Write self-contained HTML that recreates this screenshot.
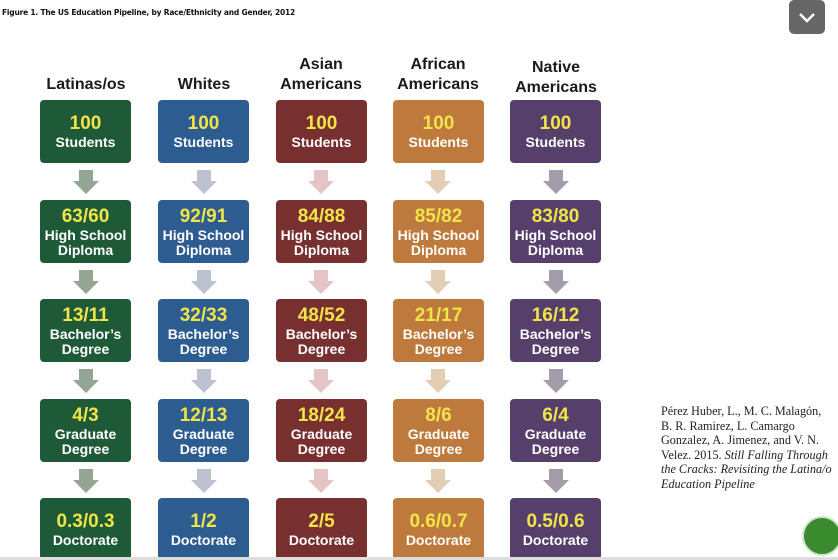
<!DOCTYPE html>
<html><head><meta charset="utf-8"><style>
body{margin:0;width:838px;height:560px;background:#fff;position:relative;overflow:hidden;font-family:"Liberation Sans",sans-serif}
.t{position:absolute;left:2px;top:8px;font:bold 7.5px "DejaVu Sans",sans-serif;color:#111;letter-spacing:-0.2px}
.h{position:absolute;width:130px;text-align:center;font-size:16px;font-weight:bold;color:#1a1a1a;line-height:20px}
.b{position:absolute;width:91px;height:63px;border-radius:4px;display:flex;flex-direction:column;align-items:center;justify-content:center;text-align:center;color:#fff;font-weight:bold;font-size:14px;line-height:15px}
.b span{color:#f0e448;font-size:19px;line-height:22px}
.c1{left:40px;background:#1f5a38}.c2{left:158px;background:#2d5c91}.c3{left:276px;background:#782f30}.c4{left:393px;background:#bd7a3c}.c5{left:510px;background:#573f6c}
.r1{top:100px}.r2{top:200px}.r3{top:299px}.r4{top:399px}.r5{top:498px;height:62px}
.cite{position:absolute;left:661px;top:404px;font:12.2px/14.6px "Liberation Serif",serif;color:#222;white-space:nowrap}
</style></head><body>
<div class="t">Figure 1. The US Education Pipeline, by Race/Ethnicity and Gender, 2012</div>
<div class="h" style="left:21px;top:75px">Latinas/os</div>
<div class="h" style="left:139px;top:75px">Whites</div>
<div class="h" style="left:256px;top:55px">Asian<br>Americans</div>
<div class="h" style="left:373px;top:55px">African<br>Americans</div>
<div class="h" style="left:491px;top:58px">Native<br>Americans</div>

<div class="b c1 r1"><span>100</span>Students</div>
<div class="b c2 r1"><span>100</span>Students</div>
<div class="b c3 r1"><span>100</span>Students</div>
<div class="b c4 r1"><span>100</span>Students</div>
<div class="b c5 r1"><span>100</span>Students</div>

<div class="b c1 r2"><span>63/60</span>High School<br>Diploma</div>
<div class="b c2 r2"><span>92/91</span>High School<br>Diploma</div>
<div class="b c3 r2"><span>84/88</span>High School<br>Diploma</div>
<div class="b c4 r2"><span>85/82</span>High School<br>Diploma</div>
<div class="b c5 r2"><span>83/80</span>High School<br>Diploma</div>

<div class="b c1 r3"><span>13/11</span>Bachelor’s<br>Degree</div>
<div class="b c2 r3"><span>32/33</span>Bachelor’s<br>Degree</div>
<div class="b c3 r3"><span>48/52</span>Bachelor’s<br>Degree</div>
<div class="b c4 r3"><span>21/17</span>Bachelor’s<br>Degree</div>
<div class="b c5 r3"><span>16/12</span>Bachelor’s<br>Degree</div>

<div class="b c1 r4"><span>4/3</span>Graduate<br>Degree</div>
<div class="b c2 r4"><span>12/13</span>Graduate<br>Degree</div>
<div class="b c3 r4"><span>18/24</span>Graduate<br>Degree</div>
<div class="b c4 r4"><span>8/6</span>Graduate<br>Degree</div>
<div class="b c5 r4"><span>6/4</span>Graduate<br>Degree</div>

<div class="b c1 r5"><span>0.3/0.3</span>Doctorate</div>
<div class="b c2 r5"><span>1/2</span>Doctorate</div>
<div class="b c3 r5"><span>2/5</span>Doctorate</div>
<div class="b c4 r5"><span>0.6/0.7</span>Doctorate</div>
<div class="b c5 r5"><span>0.5/0.6</span>Doctorate</div>

<svg width="838" height="560" style="position:absolute;left:0;top:0">
<defs><polygon id="a" points="-7,0 7,0 7,11 13,11 0,24 -13,11 -7,11"/></defs>
<g fill="#93a593">
<use href="#a" x="86" y="170"/><use href="#a" x="86" y="270"/><use href="#a" x="86" y="369"/><use href="#a" x="86" y="469"/></g>
<g fill="#bcc2d0">
<use href="#a" x="204" y="170"/><use href="#a" x="204" y="270"/><use href="#a" x="204" y="369"/><use href="#a" x="204" y="469"/></g>
<g fill="#e6c3c4">
<use href="#a" x="321" y="170"/><use href="#a" x="321" y="270"/><use href="#a" x="321" y="369"/><use href="#a" x="321" y="469"/></g>
<g fill="#e3cdb5">
<use href="#a" x="438" y="170"/><use href="#a" x="438" y="270"/><use href="#a" x="438" y="369"/><use href="#a" x="438" y="469"/></g>
<g fill="#a49cab">
<use href="#a" x="556" y="170"/><use href="#a" x="556" y="270"/><use href="#a" x="556" y="369"/><use href="#a" x="556" y="469"/></g>
<rect x="0" y="557" width="838" height="3" fill="#ddd"/>
<rect x="789" y="0" width="36" height="34" rx="5" fill="#666"/>
<polyline points="800,14 807,21 814,14" fill="none" stroke="#fff" stroke-width="2.5"/>
<circle cx="822" cy="536" r="19" fill="#3a8a2e" stroke="#cde5c8" stroke-width="2"/>
</svg>
<div class="cite">Pérez Huber, L., M. C. Malagón,<br>B. R. Ramirez, L. Camargo<br>Gonzalez, A. Jimenez, and V. N.<br>Velez. 2015. <i>Still Falling Through<br>the Cracks: Revisiting the Latina/o<br>Education Pipeline</i></div>
</body></html>
